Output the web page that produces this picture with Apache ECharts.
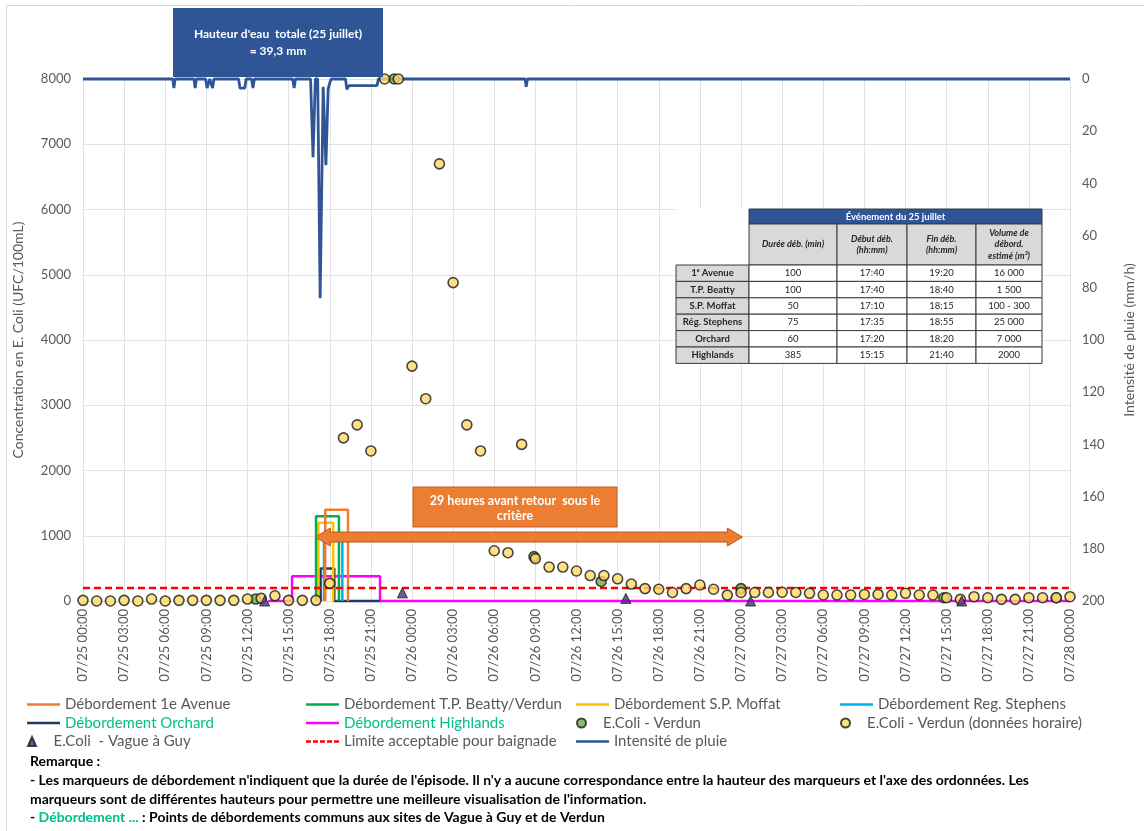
<!DOCTYPE html>
<html><head><meta charset="utf-8">
<script src="https://cdn.jsdelivr.net/npm/echarts@6/dist/echarts.min.js"></script>
<style>html,body{margin:0;padding:0;background:#fff}#c{width:1144px;height:831px}</style>
</head><body><div id="c"></div><script>
// ---------- DATA ----------
const xTickLabels = ['07/25 00:00','07/25 03:00','07/25 06:00','07/25 09:00','07/25 12:00','07/25 15:00','07/25 18:00','07/25 21:00',
 '07/26 00:00','07/26 03:00','07/26 06:00','07/26 09:00','07/26 12:00','07/26 15:00','07/26 18:00','07/26 21:00',
 '07/27 00:00','07/27 03:00','07/27 06:00','07/27 09:00','07/27 12:00','07/27 15:00','07/27 18:00','07/27 21:00','07/28 00:00'];
// x in hours since 07/25 00:00
const debAvenue1 = [[17.67,0],[17.67,1400],[19.33,1400],[19.33,0]];
const debBeatty = [[17.0,0],[17.0,1300],[18.67,1300],[18.67,0]];
const debMoffat = [[17.17,0],[17.17,1200],[18.25,1200],[18.25,0]];
const debStephens = [[17.58,0],[17.58,980],[18.92,980],[18.92,0]];
const debOrchard = [[17.33,0],[17.33,500],[18.33,500],[18.33,0],[21.67,0]];
const debHighlands = [[13.5,0],[15.25,0],[15.25,380],[21.67,380],[21.67,0],[72,0]];
const ecoliVerdun = [[12.6,30],[22.7,8000],[32.9,680],[37.8,300],[48,190],[62.8,50],[71,50]];
const ecoliVerdunHourly = [[0,10],[1,0],[2,0],[3,10],[4,0],[5,30],[6,0],[7,10],[8,10],[9,10],[10,10],[11,10],[12,30],
 [13,40],[14,80],[15,10],[16,10],[17,10],[18,270],[19,2500],[20,2700],[21,2300],[22,8000],[23,8000],[24,3600],[25,3100],
 [26,6700],[27,4880],[28,2700],[29,2300],[30,770],[31,740],[32,2400],[33,650],[34,520],[35,520],[36,460],[37,390],[38,390],
 [39,340],[40,260],[41,190],[42,180],[43,130],[44,190],[45,245],[46,180],[47,90],[48,130],[49,130],[50,130],[51,135],
 [52,130],[53,118],[54,92],[55,92],[56,92],[57,100],[58,100],[59,92],[60,118],[61,92],[62,92],[63,50],[64,25],[65,66],
 [66,50],[67,25],[68,25],[69,50],[70,50],[71,50],[72,66]];
const ecoliVagueGuy = [[13.25,0],[23.3,125],[39.6,40],[48.7,0],[64.1,0]];
const limiteBaignade = [[0,200],[72,200]];
const rainIntensity = [[0,0],[6.55,0],[6.63,3.5],[6.72,0],[8.1,0],[8.18,3.5],[8.27,0],
 [8.95,0],[9.05,3.5],[9.25,0],[9.45,3.5],[9.55,0],[11.35,0],[11.45,3.5],[11.8,3.5],[11.9,0],
 [12.3,0],[12.4,3.5],[12.5,0],[15.3,0],[15.4,3.5],[15.5,0],
 [16.6,0],[16.78,30],[16.95,0],[17.12,0],[17.3,84],[17.52,3],[17.72,33],[17.88,4],[18.0,1.5],[18.1,0],
 [19.15,0],[19.25,4],[19.4,2.5],[21.45,2.5],[21.55,0],[32.25,0],[32.33,3],[32.42,0],[72,0]];
const arrowSpan = [[16.95,980],[48.1,980]];
const tableTitle = 'Événement du 25 juillet';
const tableHeaders = ['Durée déb. (min)','Début déb.\n(hh:mm)','Fin déb.\n(hh:mm)','Volume de\ndébord.\nestimé (m³)'];
const tableRows = [['1ᵉ Avenue','100','17:40','19:20','16 000'],['T.P. Beatty','100','17:40','18:40','1 500'],
 ['S.P. Moffat','50','17:10','18:15','100 - 300'],['Rég. Stephens','75','17:35','18:55','25 000'],
 ['Orchard','60','17:20','18:20','7 000'],['Highlands','385','15:15','21:40','2000']];
const leftTicks = [0,1000,2000,3000,4000,5000,6000,7000,8000];
const rightTicks = [0,20,40,60,80,100,120,140,160,180,200];

// ---------- CHART ----------
const FF = 'Lato, "Open Sans", "Liberation Sans", sans-serif';
const GRAY = '#595959', TEAL = '#00C08B';
const chart = echarts.init(document.getElementById('c'), null, {renderer:'canvas'});

function debSeries(name, data, color){
  return {name, type:'line', data, symbol:'none', lineStyle:{width:2.5, color}, itemStyle:{color}, z:3, clip:false, animation:false};
}
const series = [
  debSeries('Débordement Highlands', debHighlands, '#FF00FF'),
  debSeries('Débordement Orchard', debOrchard, '#1F3864'),
  debSeries('Débordement Reg. Stephens', debStephens, '#00B0F0'),
  debSeries('Débordement S.P. Moffat', debMoffat, '#FFC000'),
  debSeries('Débordement T.P. Beatty/Verdun', debBeatty, '#00B050'),
  debSeries('Débordement 1e Avenue', debAvenue1, '#ED7D31'),
  {name:'Limite acceptable pour baignade', type:'line', data:limiteBaignade, symbol:'none', z:4,
   lineStyle:{width:2.5, color:'#FF0000', type:[7,4]}, itemStyle:{color:'#FF0000'}},
  {name:'Intensité de pluie', type:'line', yAxisIndex:1, data:rainIntensity, symbol:'none', z:5, clip:false,
   lineStyle:{width:2.8, color:'#2F5597'}, itemStyle:{color:'#2F5597'}},
  {name:'E.Coli - Verdun', type:'scatter', data:ecoliVerdun, symbol:'circle', symbolSize:10, z:6, clip:false,
   itemStyle:{color:'#70AD47', borderColor:'#1a1a1a', borderWidth:1.6}},
  {name:'E.Coli - Verdun (données horaire)', type:'scatter', data:ecoliVerdunHourly, symbol:'circle', symbolSize:10, z:7, clip:false,
   itemStyle:{color:'#FFD966', borderColor:'#1a1a1a', borderWidth:1.6}},
  {name:'E.Coli  - Vague à Guy', type:'scatter', data:ecoliVagueGuy, symbol:'triangle', symbolSize:10, z:8, clip:false,
   itemStyle:{color:'#4B2E83', borderColor:'#1a1a1a', borderWidth:1}},
];

const LINE_ICON = 'path://M0,0 L40,0 L40,3.2 L0,3.2 Z';
const DASH_ICON = 'path://M0,0 L6,0 L6,3.2 L0,3.2 Z M8.5,0 L14.5,0 L14.5,3.2 L8.5,3.2 Z M17,0 L23,0 L23,3.2 L17,3.2 Z M25.5,0 L31.5,0 L31.5,3.2 L25.5,3.2 Z M34,0 L40,0 L40,3.2 L34,3.2 Z';
const TRI_ICON = 'path://M4,0 L8,9 L0,9 Z';
const legendSlots = [
  ['Débordement 1e Avenue',0,0],['Débordement T.P. Beatty/Verdun',1,0],['Débordement S.P. Moffat',2,0],['Débordement Reg. Stephens',3,0],
  ['Débordement Orchard',0,1],['Débordement Highlands',1,1],['E.Coli - Verdun',2,1],['E.Coli - Verdun (données horaire)',3,1],
  ['E.Coli  - Vague à Guy',0,2],['Limite acceptable pour baignade',1,2],['Intensité de pluie',2,2]];
const colX = [27, 306, 576, 840], rowY = [697, 715.5, 734];
const legends = legendSlots.map(([name,c,r]) => {
  let icon = LINE_ICON, w = 33;
  if (name.indexOf('E.Coli - Verdun') === 0) icon = 'circle';
  if (name.indexOf('Vague') > 0) icon = TRI_ICON;
  if (name.indexOf('Limite') === 0) icon = DASH_ICON;
  return {
    data:[{name, icon, textStyle:{color:(name==='Débordement Orchard'||name==='Débordement Highlands')?TEAL:GRAY}}],
    left:colX[c], top:rowY[r], itemWidth:w, itemHeight:9, selectedMode:false,
    textStyle:{fontFamily:FF, fontSize:15, color:GRAY}, padding:0
  };
});

chart.setOption({
  animation:false,
  backgroundColor:'#fff',
  grid:{left:83, right:61, top:79, bottom:230, containLabel:false},
  legend: legends,
  xAxis:{type:'value', min:0, max:72, interval:3,
    axisLine:{show:true, lineStyle:{color:'#d9d9d9'}}, axisTick:{show:false},
    splitLine:{show:true, lineStyle:{color:'#e3e3e3', width:1}},
    axisLabel:{rotate:90, color:GRAY, fontFamily:FF, fontSize:13, margin:8,
      formatter:v => xTickLabels[Math.round(v/3)]}},
  yAxis:[
    {type:'value', min:leftTicks[0], max:leftTicks[leftTicks.length-1], interval:1000, position:'left',
     name:'Concentration en E. Coli (UFC/100mL)', nameLocation:'middle', nameGap:58, nameRotate:90,
     nameTextStyle:{color:GRAY, fontFamily:FF, fontSize:14},
     axisLine:{show:false}, axisTick:{show:false},
     splitLine:{show:true, lineStyle:{color:'#e3e3e3'}},
     axisLabel:{color:GRAY, fontFamily:FF, fontSize:13, margin:12, formatter:v => String(v)}},
    {type:'value', min:rightTicks[0], max:rightTicks[rightTicks.length-1], interval:20, position:'right', inverse:true,
     name:'Intensité de pluie (mm/h)', nameLocation:'middle', nameGap:52, nameRotate:90,
     nameTextStyle:{color:GRAY, fontFamily:FF, fontSize:14},
     axisLine:{show:false}, axisTick:{show:false}, splitLine:{show:false},
     axisLabel:{color:GRAY, fontFamily:FF, fontSize:13, margin:12, formatter:v => String(v)}}
  ],
  series
});

// ---------- ANNOTATIONS ----------
const G = [];
G.push({type:'rect', z:0, silent:true, shape:{x:6.5,y:5.5,width:1160,height:860}, style:{fill:'none', stroke:'#d9d9d9', lineWidth:1}});
// title box
G.push({type:'rect', z:100, shape:{x:173,y:8,width:210,height:69}, style:{fill:'#2F5597'}});
G.push({type:'text', z:101, x:278, y:43, style:{text:"Hauteur d'eau  totale (25 juillet)\n= 39,3 mm", align:'center', verticalAlign:'middle',
  font:'bold 12px '+FF, fill:'#fff', lineHeight:17}});
// arrow
const p0 = chart.convertToPixel({xAxisIndex:0, yAxisIndex:0}, arrowSpan[0]);
const p1 = chart.convertToPixel({xAxisIndex:0, yAxisIndex:0}, arrowSpan[1]);
const hl = 15, hh = 9, sh = 5, ay = p0[1];
G.push({type:'polygon', z:100, shape:{points:[
  [p0[0],ay],[p0[0]+hl,ay-hh],[p0[0]+hl,ay-sh],[p1[0]-hl,ay-sh],[p1[0]-hl,ay-hh],[p1[0],ay],
  [p1[0]-hl,ay+hh],[p1[0]-hl,ay+sh],[p0[0]+hl,ay+sh],[p0[0]+hl,ay+hh]]},
  style:{fill:'#ED7D31', stroke:'#B5581F', lineWidth:1}});
// orange box
G.push({type:'rect', z:100, shape:{x:413,y:487,width:204,height:40}, style:{fill:'#ED7D31', stroke:'#C0622A', lineWidth:1}});
G.push({type:'text', z:101, x:515, y:508, style:{text:'29 heures avant retour  sous le\ncritère', align:'center', verticalAlign:'middle',
  font:'bold 12.5px '+FF, fill:'#fff', lineHeight:15}});
// table
const cx = [676, 749, 837, 907, 976, 1042];
const ty0 = 209, ty1 = 224, ty2 = 265, rh = 16.4;
const border = '#3a3a3a';
G.push({type:'rect', z:99, shape:{x:cx[0],y:ty0,width:cx[5]-cx[0],height:ty2+rh*6-ty0}, style:{fill:'#fff'}});
G.push({type:'rect', z:100, shape:{x:cx[1],y:ty0,width:cx[5]-cx[1],height:ty1-ty0}, style:{fill:'#2F5597', stroke:border, lineWidth:1}});
G.push({type:'text', z:101, x:(cx[1]+cx[5])/2, y:(ty0+ty1)/2, style:{text:tableTitle, align:'center', verticalAlign:'middle', font:'bold 9.5px '+FF, fill:'#fff'}});
for (let i=0;i<4;i++){
  G.push({type:'rect', z:100, shape:{x:cx[i+1],y:ty1,width:cx[i+2]-cx[i+1],height:ty2-ty1}, style:{fill:'#D9D9D9', stroke:border, lineWidth:1}});
  G.push({type:'text', z:101, x:(cx[i+1]+cx[i+2])/2, y:(ty1+ty2)/2, style:{text:tableHeaders[i], align:'center', verticalAlign:'middle',
    font:'italic bold 9px '+FF, fill:'#262626', lineHeight:11.5}});
}
tableRows.forEach((row, r) => {
  const y = ty2 + r*rh;
  row.forEach((t, c) => {
    G.push({type:'rect', z:100, shape:{x:cx[c],y:y,width:cx[c+1]-cx[c],height:rh}, style:{fill:c===0?'#D9D9D9':'#fff', stroke:border, lineWidth:1}});
    G.push({type:'text', z:101, x:(cx[c]+cx[c+1])/2, y:y+rh/2, style:{text:t, align:'center', verticalAlign:'middle',
      font:(c===0?'bold ':'')+'9.5px '+FF, fill:'#262626'}});
  });
});
// remarks
const RF = 'bold 14px '+FF;
G.push({type:'text', z:100, x:30, y:761, style:{text:'Remarque :', verticalAlign:'middle', font:RF, fill:'#000'}});
G.push({type:'text', z:100, x:30, y:780, style:{text:"- Les marqueurs de débordement n'indiquent que la durée de l'épisode. Il n'y a aucune correspondance entre la hauteur des marqueurs et l'axe des ordonnées. Les", verticalAlign:'middle', font:RF, fill:'#000'}});
G.push({type:'text', z:100, x:30, y:799, style:{text:"marqueurs sont de différentes hauteurs pour permettre une meilleure visualisation de l'information.", verticalAlign:'middle', font:RF, fill:'#000'}});
G.push({type:'text', z:100, x:30, y:817, style:{text:'- {t|Débordement ...} : Points de débordements communs aux sites de Vague à Guy et de Verdun', verticalAlign:'middle', font:RF, fill:'#000',
  rich:{t:{fill:TEAL, font:RF}}}});
chart.setOption({graphic: G});
</script></body></html>
